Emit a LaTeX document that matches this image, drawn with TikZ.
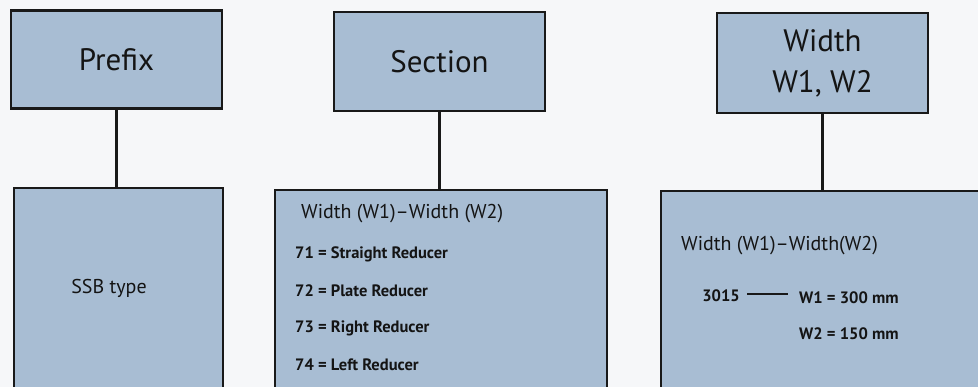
\documentclass[tikz,border=0pt]{standalone}
\usepackage{fontspec}
\setmainfont{PT Sans}
\definecolor{boxfill}{RGB}{168,189,211}
\definecolor{boxline}{RGB}{25,25,25}
\definecolor{txt}{RGB}{20,20,20}
\definecolor{bg}{RGB}{246,247,249}
\begin{document}
\begin{tikzpicture}[x=1pt,y=-1pt,
  box/.style={draw=boxline,fill=boxfill,line width=2.2pt,inner sep=0pt,text=txt},
  conn/.style={draw=boxline,line width=2.2pt},
  big/.style={font=\fontsize{31}{37}\selectfont},
  mid/.style={font=\fontsize{20}{24}\selectfont,inner sep=0pt,text=txt},
  small/.style={font=\fontsize{16.5}{19}\selectfont\bfseries,inner sep=0pt,text=txt}]
\useasboundingbox (0,0) rectangle (978,387);
\fill[bg] (0,0) rectangle (978,387);
\clip (0,0) rectangle (978,387);
% top boxes
\node[box,big,minimum width=211pt,minimum height=98pt] (prefix) at (116.5,59.5) {Prefix};
\node[box,big,minimum width=211pt,minimum height=99pt] (section) at (439.5,61.5) {Section};
\node[box,big,minimum width=211pt,minimum height=100pt,align=center] (width) at (822.5,63) {Width\\[4pt]W1, W2};
% bottom boxes (cut off at page edge)
\node[box,minimum width=209pt,minimum height=220pt,anchor=north west] (ssb) at (13,187) {};
\node[box,minimum width=332pt,minimum height=220pt,anchor=north west] (red) at (274,189) {};
\node[box,minimum width=340pt,minimum height=220pt,anchor=north west] (wid) at (660,190) {};
% connectors
\draw[conn] (prefix.south) -- (prefix.south |- ssb.north);
\draw[conn] (section.south) -- (section.south |- red.north);
\draw[conn] (width.south) -- (width.south |- wid.north);
% texts
\node[mid] (ssbt) at (109,288) {SSB type};
\node[mid,anchor=west] (redt) at (301,214) {Width (W1)–Width (W2)};
\node[small,anchor=west] (r71) at (295,254) {71 = Straight Reducer};
\node[small,anchor=west] (r72) at (295,291) {72 = Plate Reducer};
\node[small,anchor=west] (r73) at (295,328) {73 = Right Reducer};
\node[small,anchor=west] (r74) at (295,365) {74 = Left Reducer};
\node[mid,anchor=west] (widt) at (681,246) {Width (W1)–Width(W2)};
\node[small,anchor=east] (n3015) at (740,296) {3015};
\coordinate (dashA) at (747,294);
\coordinate (dashB) at (788,294);
\draw[line width=1.6pt,boxline] (dashA) -- (dashB);
\node[small,anchor=west] (w1) at (799,298) {W1 = 300 mm};
\node[small,anchor=west] (w2) at (799,334) {W2 = 150 mm};
\end{tikzpicture}
\end{document}
